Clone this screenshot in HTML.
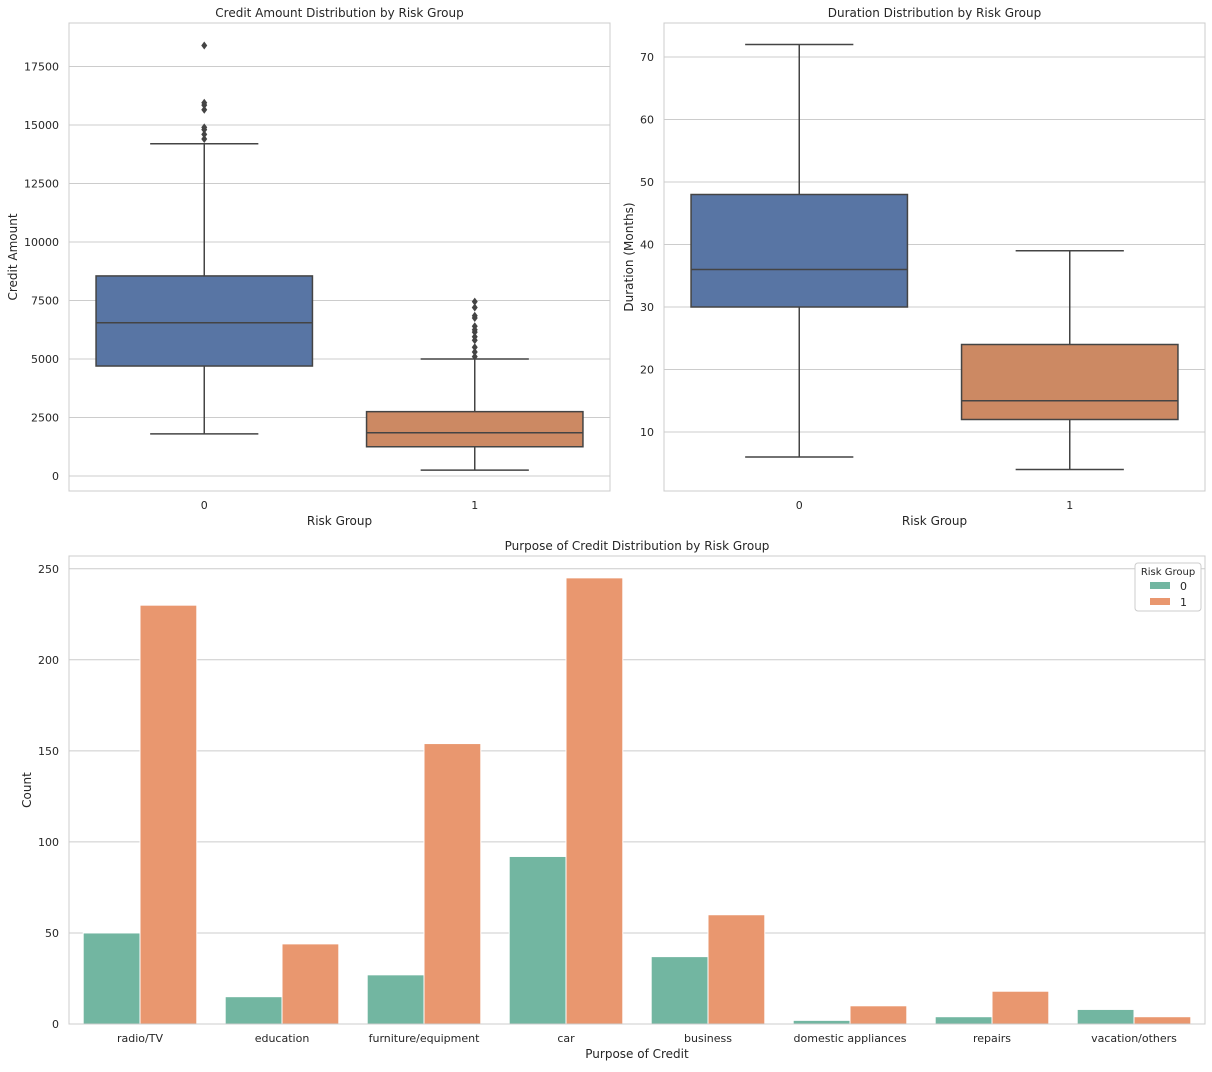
<!DOCTYPE html>
<html><head><meta charset="utf-8"><style>
body{margin:0;background:#fff;font-family:"DejaVu Sans","Liberation Sans",sans-serif;}
</style></head><body>
<svg id="c" width="1212" height="1068" xmlns="http://www.w3.org/2000/svg"></svg>
<script>
const boxGroups=['0','1'];
const creditStats=[[1800,4700,6550,8550,14200],[250,1250,1850,2750,5000]];
const creditOutliers=[[14400,14600,14800,14900,15650,15850,15950,18400],[5100,5300,5500,5800,5950,6150,6250,6400,6750,6850,7200,7450]];
const creditTicks=[0,2500,5000,7500,10000,12500,15000,17500];
const durStats=[[6,30,36,48,72],[4,12,15,24,39]];
const durTicks=[10,20,30,40,50,60,70];
const purposes=['radio/TV','education','furniture/equipment','car','business','domestic appliances','repairs','vacation/others'];
const risk0=[50,15,27,92,37,2,4,8];
const risk1=[230,44,154,245,60,10,18,4];
const countTicks=[0,50,100,150,200,250];

const svg=document.getElementById('c');const NS='http://www.w3.org/2000/svg';
function el(t,a,txt){const e=document.createElementNS(NS,t);for(const k in a)e.setAttribute(k,a[k]);if(txt!==undefined)e.textContent=txt;svg.appendChild(e);return e;}
function name(e,n){return e;}

function frame(x0,x1,y0,y1,title,nm){
  name(el('rect',{x:x0,y:y0,width:x1-x0,height:y1-y0,fill:'none',stroke:'#ccc','stroke-width':1}),nm+'-frame');
  name(el('text',{x:(x0+x1)/2,y:y0-6,'text-anchor':'middle','font-size':12,fill:'#262626'},title),nm+'-title');
}
function yTicks(ticks,ys,x0,x1,nm){
  ticks.forEach(t=>{const y=ys(t);
    name(el('line',{x1:x0,x2:x1,y1:y,y2:y,stroke:'#ccc','stroke-width':1}),nm+'-gridline');
    name(el('text',{x:x0-10,y:y+4,'text-anchor':'end','font-size':11,fill:'#262626'},t),nm+'-y-tick');});
}
function boxplot(x0,x1,y0,y1,ys,stats,outl,colors,nm){
  const w=(x1-x0)/2;
  stats.forEach((s,i)=>{const cx=x0+w*(i+0.5),bw=w*0.8,hw=w*0.2;
    name(el('line',{x1:cx,x2:cx,y1:ys(s[0]),y2:ys(s[1]),stroke:'#444','stroke-width':1.5}),nm+'-whisker-low');
    name(el('line',{x1:cx,x2:cx,y1:ys(s[3]),y2:ys(s[4]),stroke:'#444','stroke-width':1.5}),nm+'-whisker-high');
    name(el('line',{x1:cx-hw,x2:cx+hw,y1:ys(s[0]),y2:ys(s[0]),stroke:'#444','stroke-width':1.5}),nm+'-cap-low');
    name(el('line',{x1:cx-hw,x2:cx+hw,y1:ys(s[4]),y2:ys(s[4]),stroke:'#444','stroke-width':1.5}),nm+'-cap-high');
    name(el('rect',{x:cx-bw/2,y:ys(s[3]),width:bw,height:ys(s[1])-ys(s[3]),fill:colors[i],stroke:'#444','stroke-width':1.5}),nm+'-box-'+i);
    name(el('line',{x1:cx-bw/2,x2:cx+bw/2,y1:ys(s[2]),y2:ys(s[2]),stroke:'#444','stroke-width':1.5}),nm+'-median');
    (outl?outl[i]:[]).forEach(v=>{const y=ys(v);
      name(el('polygon',{points:`${cx},${y-4} ${cx+3},${y} ${cx},${y+4} ${cx-3},${y}`,fill:'#444'}),nm+'-outlier');});
    name(el('text',{x:cx,y:y1+18,'text-anchor':'middle','font-size':11,fill:'#262626'},boxGroups[i]),nm+'-x-tick');
  });
}
const boxCol=['#5875a4','#cc8963'];
// top-left
{const x0=69,x1=610,y0=23,y1=491;const ys=v=>476-v*58.5/2500;
 yTicks(creditTicks,ys,x0,x1,'credit');frame(x0,x1,y0,y1,'Credit Amount Distribution by Risk Group','credit-chart');
 boxplot(x0,x1,y0,y1,ys,creditStats,creditOutliers,boxCol,'credit');
 name(el('text',{x:(x0+x1)/2,y:525,'text-anchor':'middle','font-size':12,fill:'#262626'},'Risk Group'),'credit-x-title');
 name(el('text',{x:17,y:257,'text-anchor':'middle','font-size':12,fill:'#262626',transform:'rotate(-90 17 257)'},'Credit Amount'),'credit-y-title');}
// top-right
{const x0=664,x1=1205,y0=23,y1=491;const ys=v=>432-(v-10)*6.25;
 yTicks(durTicks,ys,x0,x1,'duration');frame(x0,x1,y0,y1,'Duration Distribution by Risk Group','duration-chart');
 boxplot(x0,x1,y0,y1,ys,durStats,null,boxCol,'duration');
 name(el('text',{x:(x0+x1)/2,y:525,'text-anchor':'middle','font-size':12,fill:'#262626'},'Risk Group'),'duration-x-title');
 name(el('text',{x:633,y:257,'text-anchor':'middle','font-size':12,fill:'#262626',transform:'rotate(-90 633 257)'},'Duration (Months)'),'duration-y-title');}
// bottom
{const x0=69,x1=1205,y0=556,y1=1024;const ys=v=>1024-v*1.821;const cw=(x1-x0)/purposes.length;
 yTicks(countTicks,ys,x0,x1,'count');
 purposes.forEach((p,i)=>{const cx=x0+cw*(i+0.5);
  name(el('rect',{x:cx-cw*0.4,y:ys(risk0[i]),width:cw*0.4,height:1024-ys(risk0[i]),fill:'#72b6a1',stroke:'#fff','stroke-width':1}),'bar-risk0-'+i);
  name(el('rect',{x:cx,y:ys(risk1[i]),width:cw*0.4,height:1024-ys(risk1[i]),fill:'#e9976f',stroke:'#fff','stroke-width':1}),'bar-risk1-'+i);
  name(el('text',{x:cx,y:1042,'text-anchor':'middle','font-size':11,fill:'#262626'},p),'purpose-x-tick');});
 frame(x0,x1,y0,y1,'Purpose of Credit Distribution by Risk Group','purpose-chart');
 name(el('text',{x:(x0+x1)/2,y:1058,'text-anchor':'middle','font-size':12,fill:'#262626'},'Purpose of Credit'),'purpose-x-title');
 name(el('text',{x:31,y:790,'text-anchor':'middle','font-size':12,fill:'#262626',transform:'rotate(-90 31 790)'},'Count'),'purpose-y-title');
 name(el('rect',{x:1135,y:563,width:66,height:48,rx:3,fill:'#fff',stroke:'#ccc'}),'legend-box');
 name(el('text',{x:1168,y:575,'text-anchor':'middle','font-size':10,fill:'#262626'},'Risk Group'),'legend-title');
 name(el('rect',{x:1150,y:582,width:20,height:7,fill:'#72b6a1'}),'legend-swatch-0');
 name(el('text',{x:1180,y:590,'font-size':11,fill:'#262626'},'0'),'legend-entry-0');
 name(el('rect',{x:1150,y:598,width:20,height:7,fill:'#e9976f'}),'legend-swatch-1');
 name(el('text',{x:1180,y:606,'font-size':11,fill:'#262626'},'1'),'legend-entry-1');}
</script>
</body></html>
